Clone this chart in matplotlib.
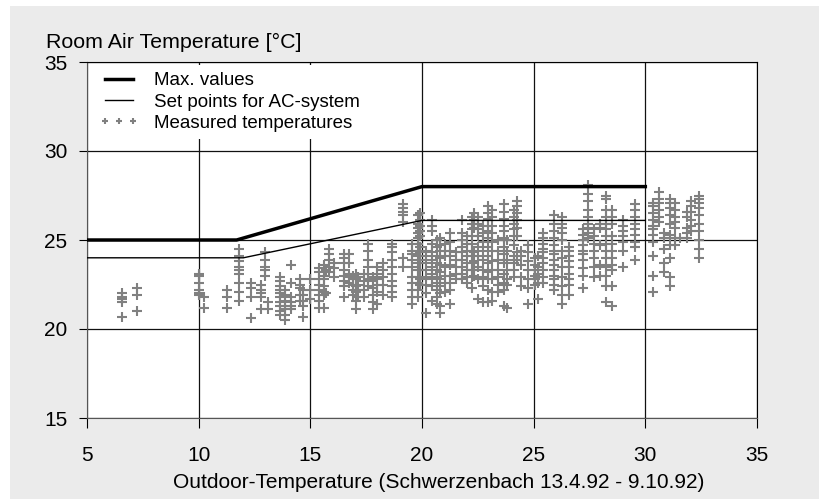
import matplotlib.pyplot as plt
from matplotlib.patches import Rectangle

plt.rcParams['font.family'] = ['Liberation Sans', 'DejaVu Sans']

# limit lines (outdoor temp -> room temp)
max_x = [5, 11.7, 20, 30]
max_y = [25, 25, 28, 28]
set_x = [5, 12, 20, 30]
set_y = [24, 24, 26.1, 26.1]

# measured room temperatures, grouped by outdoor temperature
col_x = [6.55, 7.25, 10.0, 10.25, 11.25, 11.8, 12.35, 12.8, 12.95, 13.1,
         13.65, 13.85, 14.15, 14.55, 14.65, 15.0, 15.4, 15.6, 15.7, 15.85,
         16.05, 16.5, 16.75, 16.9, 17.05, 17.15, 17.4, 17.6, 17.8, 18.0,
         18.25, 18.65, 19.15, 19.55, 19.8, 19.9, 20.2, 20.45, 20.65, 20.8,
         21.05, 21.25, 21.5, 21.8, 22.0, 22.25, 22.35, 22.5, 22.75, 22.95,
         23.15, 23.4, 23.65, 23.8, 24.1, 24.25, 24.45, 24.75, 25.05, 25.2,
         25.4, 25.9, 26.25, 26.6, 27.2, 27.45, 27.7, 27.95, 28.25, 28.5,
         29.0, 29.55, 30.35, 30.6, 30.85, 31.1, 31.35, 31.55, 31.85, 32.05,
         32.4]
col_y = [
    [22.0, 21.8, 21.7, 21.5, 20.7],
    [22.3, 21.9, 21.0],
    [23.1, 23.0, 22.6, 22.2, 22.0, 21.9],
    [21.8, 21.2],
    [22.2, 21.8, 21.2],
    [24.5, 24.1, 23.8, 23.5, 23.3, 23.1, 22.6, 22.1, 21.6],
    [22.6, 22.3, 21.8, 20.6],
    [22.5, 22.2, 22.0, 21.8, 21.1],
    [24.3, 23.9, 23.5, 23.3, 23.0],
    [21.5, 21.1],
    [22.9, 22.7, 22.4, 22.2, 22.0, 21.8, 21.5, 21.3, 21.0, 20.8],
    [22.2, 21.9, 21.6, 21.3, 21.1, 20.8, 20.5],
    [23.6, 22.6, 21.8, 21.5, 21.3, 21.1],
    [22.8, 22.5, 22.3, 21.9, 21.6],
    [22.2, 21.9, 21.6, 21.3, 20.7],
    [22.8, 22.2, 21.7],
    [23.4, 23.2, 22.8, 22.5, 22.2, 21.9, 21.6, 21.2],
    [23.6, 23.0, 22.8, 22.4, 22.1, 21.9, 21.2],
    [23.3, 22.0],
    [24.5, 24.2, 23.9, 23.5, 23.2],
    [23.7, 23.4, 22.9],
    [24.2, 24.0, 23.7, 23.3, 23.0, 22.7, 22.4, 21.8],
    [24.2, 23.7, 23.1, 22.9, 22.6],
    [23.0, 22.8, 22.5, 22.2, 21.9],
    [23.1, 22.8, 22.4, 22.1, 21.6, 21.1],
    [22.9, 22.5, 22.2, 21.8],
    [23.1, 22.7, 22.2, 21.8],
    [24.8, 24.4, 23.9, 23.5, 23.1, 22.8, 22.4],
    [22.9, 22.7, 22.3, 21.9, 21.5, 21.1],
    [23.5, 23.1, 22.8, 22.5, 22.1, 21.4],
    [23.7, 23.3, 22.9, 22.5, 21.9],
    [24.8, 24.6, 24.3, 23.9, 23.5, 23.1, 22.7, 22.4, 22.1, 21.8],
    [27.0, 26.8, 26.6, 26.4, 26.0, 24.0, 23.5],
    [24.8, 24.4, 24.2, 23.9, 23.5, 22.9, 22.6, 22.2, 21.8, 21.4],
    [26.4, 25.9, 25.7, 25.4, 25.1, 24.8, 24.4, 24.1, 23.7, 23.3, 22.9, 22.6, 22.2, 21.8],
    [26.5, 26.1, 25.8, 25.5, 25.2, 24.6, 24.3, 23.9, 23.3, 22.8, 22.5],
    [24.4, 24.1, 23.7, 23.3, 22.9, 22.5, 22.0, 20.9],
    [26.1, 25.8, 25.5, 24.8, 24.3, 23.9, 23.5, 23.1, 22.8, 22.4, 21.6],
    [25.0, 24.6, 24.1, 23.7, 23.3, 22.9, 22.6, 22.2, 21.8, 21.4],
    [25.1, 24.7, 24.4, 24.0, 23.6, 23.2, 22.8, 22.4, 22.0, 21.3, 20.9],
    [24.8, 24.4, 24.1, 23.5, 23.0, 22.6, 22.1],
    [25.4, 24.9, 24.4, 24.1, 23.6, 23.0, 22.6, 22.2, 21.4],
    [24.3, 23.9, 23.5, 23.1, 22.8],
    [26.1, 25.4, 25.0, 24.6, 24.3, 23.9, 23.5, 23.1, 22.8],
    [25.2, 24.8, 24.4, 24.1, 23.7, 23.3, 22.9, 22.6],
    [26.3, 25.9, 25.6, 25.2, 24.8, 24.4, 24.1, 23.7, 23.3, 22.9, 22.3],
    [26.5, 26.1, 25.7, 24.3, 23.8, 23.3, 23.0],
    [26.3, 25.9, 25.6, 25.2, 24.6, 24.1, 23.5, 22.8, 21.7],
    [25.8, 25.4, 24.9, 24.4, 23.9, 23.3, 22.9, 22.4, 21.5],
    [26.9, 26.5, 26.2, 25.8, 25.5, 25.1, 24.6, 24.1, 23.7, 23.2, 22.8, 22.2, 21.5],
    [26.7, 26.3, 25.8, 25.4, 24.9, 24.4, 23.8, 23.3, 22.8, 22.1, 21.6],
    [25.0, 24.4, 23.9, 23.3, 22.9, 22.5, 22.1],
    [27.0, 26.6, 26.2, 25.8, 25.5, 25.1, 24.6, 24.2, 23.7, 23.1, 22.6, 22.2, 21.3],
    [25.0, 24.4, 23.9, 23.3, 22.8, 22.5, 21.2],
    [26.7, 26.3, 25.9, 25.6, 25.2, 24.7, 24.1, 23.7, 23.3, 22.9],
    [27.2, 26.9, 26.5, 26.1, 25.7, 25.2, 24.3, 23.9],
    [24.4, 24.1, 23.6, 22.9, 22.4],
    [24.7, 24.3, 23.8, 23.3, 22.8, 22.3, 21.4],
    [24.0, 23.6, 23.3, 23.0, 22.8, 22.5],
    [24.1, 23.5, 23.1, 22.9, 22.6, 21.7],
    [25.4, 25.1, 24.8, 24.5, 24.3, 24.0, 23.7, 23.3, 22.9, 22.6],
    [26.4, 25.9, 25.5, 25.1, 24.7, 24.4, 24.2, 23.9, 23.6, 23.3, 23.0, 22.8, 22.5, 22.2],
    [26.3, 25.9, 25.7, 25.4, 25.0, 24.4, 24.0, 23.5, 22.9, 22.4, 21.9, 21.4],
    [24.6, 24.4, 24.1, 23.8, 23.5, 23.1, 22.8, 22.5, 21.9],
    [25.6, 25.3, 25.0, 24.7, 24.4, 24.2, 23.9, 23.4, 23.0, 22.3],
    [28.1, 27.6, 27.2, 26.7, 26.3, 25.9, 25.7, 25.4, 25.1],
    [25.6, 25.2, 24.8, 24.4, 24.0, 23.5, 22.9],
    [25.9, 25.7, 24.7, 23.6, 23.0],
    [27.5, 27.3, 26.7, 26.3, 25.9, 25.6, 25.2, 24.8, 24.4, 24.0, 23.5, 23.0, 22.4, 21.5],
    [26.7, 26.3, 25.9, 25.2, 24.8, 24.4, 24.0, 23.6, 23.3, 22.4, 21.3],
    [26.1, 25.8, 25.5, 25.2, 24.9, 24.4, 23.5],
    [27.0, 26.7, 26.3, 25.9, 25.6, 25.3, 24.9, 24.6, 23.9],
    [27.1, 26.9, 26.5, 26.1, 25.8, 25.6, 25.3, 24.9, 24.1, 23.0, 22.1],
    [27.7, 27.3, 27.1, 26.7, 26.3, 26.0],
    [25.4, 25.1, 24.5, 23.7, 23.2],
    [27.3, 27.1, 26.8, 26.4, 25.9, 25.3, 24.7, 24.0, 22.9, 22.4],
    [27.1, 26.7, 26.3, 26.0, 25.7, 25.1, 24.7],
    [25.1],
    [26.6, 26.3, 25.7, 25.4, 25.1],
    [27.2, 26.9, 26.6, 26.1, 25.8, 25.5],
    [27.5, 27.3, 27.1, 26.8, 26.4, 25.9, 25.5, 25.0, 24.5, 24.0],
]

meas_x = [x for x, ys in zip(col_x, col_y) for _ in ys]
meas_y = [y for ys in col_y for y in ys]

xticks = [5, 10, 15, 20, 25, 30, 35]
yticks = [15, 20, 25, 30, 35]

fig = plt.figure(figsize=(8.19, 4.99), dpi=100, facecolor='white')
bg = Rectangle((10 / 819, 0), 1, 493 / 499, transform=fig.transFigure,
               facecolor='#ebebeb', edgecolor='none', zorder=-10)
fig.add_artist(bg)
ax = fig.add_axes([87 / 819, 1 - 418 / 499, 670 / 819, 356 / 499])
ax.set_facecolor('white')

ax.plot(meas_x, meas_y, linestyle='none', marker='+', color='#808080',
        markersize=7, markeredgewidth=1.5, label='Measured temperatures', zorder=3)
ax.plot(max_x, max_y, color='black', linewidth=2.5, label='Max. values', zorder=4)
ax.plot(set_x, set_y, color='black', linewidth=1.0, label='Set points for AC-system', zorder=4)

ax.set_xlim(5, 35)
ax.set_ylim(15, 35)
ax.set_xticks(xticks)
ax.set_yticks(yticks)
ax.grid(True, color='#111111', linewidth=0.9)
ax.set_axisbelow(True)
for s in ['left', 'bottom']:
    ax.spines[s].set_color('#555555')
for s in ['top', 'right']:
    ax.spines[s].set_color('black')
ax.tick_params(axis='x', direction='out', length=7, width=0.8, labelsize=15, pad=13)
ax.tick_params(axis='y', direction='out', length=6, width=0.8, labelsize=15, pad=8)

h, l = ax.get_legend_handles_labels()
order = [1, 2, 0]
leg = ax.legend([h[i] for i in order], [l[i] for i in order], loc='upper left',
                bbox_to_anchor=(0.0067, 0.992), borderaxespad=0, borderpad=0.4,
                fontsize=13.5, labelspacing=0.22, handlelength=2.12, handletextpad=0.84,
                numpoints=3, frameon=True, fancybox=False, framealpha=1,
                facecolor='white', edgecolor='none', markerscale=0.7)

fig.text(46 / 819, 1 - 48 / 499, 'Room Air Temperature [°C]', fontsize=15.4,
         ha='left', va='baseline')
fig.text(438.5 / 819, 1 - 488 / 499,
         'Outdoor-Temperature (Schwerzenbach 13.4.92 - 9.10.92)', fontsize=15,
         ha='center', va='baseline')

fig.savefig('out.png', dpi=100, facecolor=fig.get_facecolor())
